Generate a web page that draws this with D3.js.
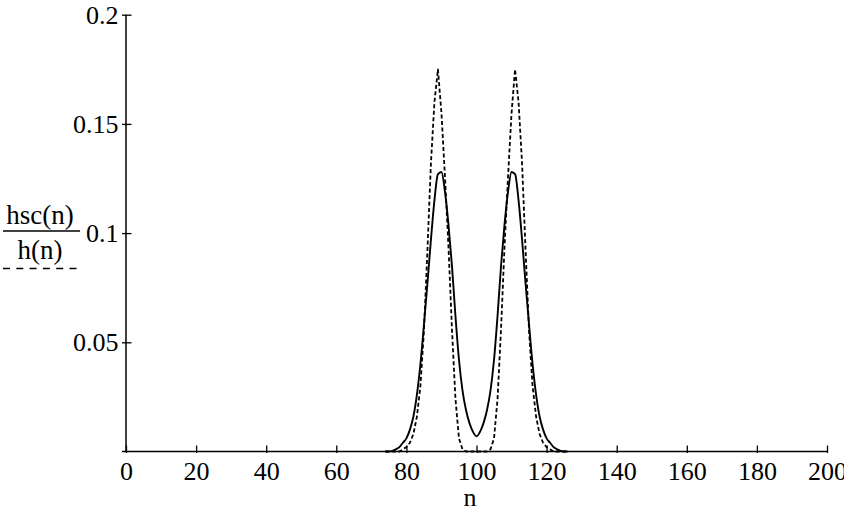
<!DOCTYPE html>
<html>
<head>
<meta charset="utf-8">
<script src="https://cdn.jsdelivr.net/npm/d3@7"></script>
<style>
  html, body { margin: 0; padding: 0; background: #fff; }
  svg { display: block; }
  text { font-family: "Liberation Serif", "Times New Roman", serif; fill: #000; }
</style>
</head>
<body>
<svg id="chart" width="844" height="510"></svg>
<script>
// ---- data ----
const nValues = [74,75,76,77,78,79,80,81,82,83,84,85,86,87,88,89,90,91,92,93,94,95,96,97,98,99,100,
                 101,102,103,104,105,106,107,108,109,110,111,112,113,114,115,116,117,118,119,120,121,122,123,124,125,126];
const hscValues = [0,0,0.0003,0.001,0.002,0.004,0.006,0.010,0.016,0.026,0.040,0.058,0.077,0.097,0.115,0.127,0.128,0.119,0.104,0.085,0.062,0.042,0.028,0.019,0.013,0.009,0.007,
                   0.009,0.013,0.019,0.028,0.042,0.062,0.085,0.104,0.119,0.128,0.127,0.115,0.097,0.077,0.058,0.040,0.026,0.016,0.010,0.006,0.004,0.002,0.001,0.0003,0,0];
const hValues = [0,0,0,0,0,0.001,0.002,0.004,0.008,0.016,0.030,0.055,0.092,0.132,0.160,0.175,0.155,0.126,0.094,0.056,0.024,0.006,0.001,0,0,0,0,
                 0,0,0,0.001,0.006,0.024,0.056,0.094,0.126,0.155,0.175,0.160,0.132,0.092,0.055,0.030,0.016,0.008,0.004,0.002,0.001,0,0,0,0,0];
const xTicks = [0,20,40,60,80,100,120,140,160,180,200];
const yTicks = [0.05,0.1,0.15,0.2];
const yTickLabels = ["0.05","0.1","0.15","0.2"];
const xLabel = "n";
const legendLabels = ["hsc(n)", "h(n)"];

// ---- drawing ----
const svg = d3.select("#chart");
const x = d3.scaleLinear().domain([0,200]).range([126, 827]);
const y = d3.scaleLinear().domain([0,0.2]).range([451.5, 14.7]);

const hscData = nValues.map((n,i) => [n, hscValues[i]]);
const hData = nValues.map((n,i) => [n, hValues[i]]);

// x axis
const xAxis = svg.append("g").attr("transform", `translate(0,${y(0)})`)
  .call(d3.axisBottom(x).tickValues(xTicks).tickFormat(d3.format("d")).tickSizeOuter(0));
xAxis.select(".domain").remove();
xAxis.append("line").attr("x1", 122).attr("x2", x(200)).attr("y1", 0).attr("y2", 0)
  .attr("stroke", "#000").attr("stroke-width", 1.5);
xAxis.selectAll(".tick line").attr("y1", -6).attr("y2", 1.5).attr("stroke", "#000").attr("stroke-width", 1.3);
xAxis.selectAll(".tick text").attr("y", 28.5).attr("dy", 0)
  .style("font-size", "26px").style("font-family", "'Liberation Serif', serif").attr("fill", "#000");

// y axis
const yAxis = svg.append("g").attr("transform", `translate(${x(0)},0)`)
  .call(d3.axisLeft(y).tickValues(yTicks).tickFormat((d,i) => yTickLabels[i]).tickSizeOuter(0));
yAxis.select(".domain").remove();
yAxis.append("line").attr("x1", 0).attr("x2", 0).attr("y1", y(0)).attr("y2", y(0.2))
  .attr("stroke", "#000").attr("stroke-width", 1.5);
yAxis.selectAll(".tick line").attr("x1", -4).attr("x2", 5.5).attr("stroke", "#000").attr("stroke-width", 1.3);
yAxis.selectAll(".tick text").attr("x", -7.5).attr("dy", "0.33em")
  .style("font-size", "26px").style("font-family", "'Liberation Serif', serif").attr("fill", "#000");

// curves
const lineSmooth = d3.line().x(d => x(d[0])).y(d => y(d[1])).curve(d3.curveMonotoneX);
const lineLin = d3.line().x(d => x(d[0])).y(d => y(d[1])).curve(d3.curveLinear);

svg.append("path").datum(hData).attr("d", lineLin)
  .attr("fill", "none").attr("stroke", "#000").attr("stroke-width", 1.8)
  .attr("stroke-dasharray", "4,2.5").attr("stroke-linejoin", "round");
svg.append("path").datum(hscData).attr("d", lineSmooth)
  .attr("fill", "none").attr("stroke", "#000").attr("stroke-width", 1.9)
  .attr("stroke-linejoin", "round");

// x label
svg.append("text").attr("x", 470).attr("y", 506).attr("text-anchor", "middle")
  .style("font-size", "26px").text(xLabel);

// legend
const legend = svg.append("g");
legend.append("text").attr("x", 40).attr("y", 223.5).attr("text-anchor", "middle")
  .style("font-size", "27px").text(legendLabels[0]);
legend.append("line").attr("x1", 3).attr("x2", 80).attr("y1", 231).attr("y2", 231)
  .attr("stroke", "#000").attr("stroke-width", 1.6);
legend.append("text").attr("x", 40).attr("y", 258.5).attr("text-anchor", "middle")
  .style("font-size", "27px").text(legendLabels[1]);
legend.append("line").attr("x1", 3).attr("x2", 80).attr("y1", 268.5).attr("y2", 268.5)
  .attr("stroke", "#000").attr("stroke-width", 1.4).attr("stroke-dasharray", "7,6.3");
</script>
</body>
</html>
